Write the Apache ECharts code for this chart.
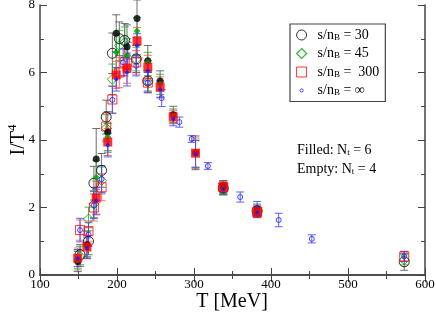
<!DOCTYPE html>
<html><head><meta charset="utf-8">
<script src="https://cdn.jsdelivr.net/npm/echarts@6/dist/echarts.min.js"></script>
<style>html,body{margin:0;padding:0;background:#fff}#c{width:436px;height:312px}</style>
</head><body><div id="c"></div>
<script>
// ---- Data ----
// N_t = 6 (filled symbols)
var T6 = [149, 161, 173, 188, 199, 213, 226, 240, 256, 273, 302, 338, 382];
var black6 = [0.4, 0.9, 3.44, 4.24, 7.16, 6.76, 7.6, 6.35, 5.75, 4.75, 3.62, 2.6, 1.9];
var black6err = [0.3, 0.4, 0.9, 0.6, 0.55, 0.65, 0.55, 0.45, 0.3, 0.25, 0.5, 0.2, 0.2];
var green6 = [0.45, 0.85, 2.9, 4.09, 6.6, 6.5, 7.23, 6.3, 5.65, 4.72, 3.6, 2.55, 1.88];
var green6err = [0.3, 0.3, 0.5, 0.4, 0.5, 0.5, 0.4, 0.3, 0.3, 0.2, 0.4, 0.15, 0.15];
var red6 = [0.5, 0.83, 2.28, 3.94, 5.93, 6.13, 6.93, 6.16, 5.57, 4.68, 3.61, 2.6, 1.87];
var red6err = [0.3, 0.35, 0.5, 0.4, 0.4, 0.45, 0.4, 0.35, 0.3, 0.2, 0.45, 0.15, 0.15];
var blue6 = [0.5, 0.8, 2.2, 3.85, 5.8, 6.0, 6.8, 6.05, 5.5, 4.62, 3.58, 2.55, 1.85];
var blue6err = [0.25, 0.3, 0.4, 0.35, 0.35, 0.4, 0.35, 0.3, 0.25, 0.2, 0.4, 0.15, 0.15];
// N_t = 4 (open symbols)
var T4 = [152, 163, 170, 180, 186, 194, 203, 210, 225, 240, 338, 382, 573];
var black4 = [0.6, 1.0, 2.72, 3.1, 4.68, 6.57, 7.0, 6.95, 6.4, 5.75, 2.58, 1.9, 0.39];
var black4err = [0.3, 0.4, 0.5, 0.5, 0.5, 0.6, 0.5, 0.5, 0.4, 0.3, 0.2, 0.15, 0.25];
var green4 = [0.55, 1.66, 2.1, 2.8, 4.35, 5.8, 6.8, 6.9, 6.4, 5.72, 2.52, 1.88, 0.45];
var green4err = [0.3, 0.35, 0.4, 0.4, 0.4, 0.45, 0.45, 0.45, 0.35, 0.3, 0.15, 0.15, 0.15];
var red4 = [1.33, 1.3, 2.0, 2.6, 4.4, 5.2, 6.0, 6.3, 6.3, 5.7, 2.6, 1.87, 0.55];
var red4err = [0.3, 0.3, 0.4, 0.4, 0.4, 0.4, 0.45, 0.4, 0.35, 0.3, 0.15, 0.15, 0.15];
var TB4 = [152, 163, 170, 180, 194, 208, 214, 225, 240, 258, 281, 297, 318, 338, 360, 382, 410, 453, 573];
var blue4 = [1.33, 1.2, 2.07, 2.84, 5.19, 6.3, 6.5, 6.2, 5.7, 5.24, 4.53, 4.03, 3.23, 2.58, 2.31, 1.98, 1.63, 1.07, 0.55];
var blue4err = [0.35, 0.35, 0.4, 0.4, 0.4, 0.4, 0.4, 0.3, 0.3, 0.25, 0.15, 0.1, 0.1, 0.1, 0.15, 0.2, 0.2, 0.12, 0.15];
// axis ticks
var xTicks = [100, 200, 300, 400, 500, 600];
var yTicks = [0, 2, 4, 6, 8];
var legendNames = ['30', '45', ' 300', '∞'];

var FONT = 'Liberation Serif';
function pts(T, v, e) { return T.map(function (t, i) { return [t, v[i], e[i]]; }); }

function errSeries(T, v, e, color) {
  return {
    type: 'custom', silent: true, z: 2,
    data: pts(T, v, e),
    renderItem: function (params, api) {
      var x = api.value(0), y = api.value(1), d = api.value(2);
      var p1 = api.coord([x, y + d]), p2 = api.coord([x, y - d]);
      var w = 4;
      var st = { stroke: color, lineWidth: 1, opacity: 0.85 };
      return { type: 'group', children: [
        { type: 'line', shape: { x1: p1[0], y1: p1[1], x2: p2[0], y2: p2[1] }, style: st },
        { type: 'line', shape: { x1: p1[0] - w, y1: p1[1], x2: p1[0] + w, y2: p1[1] }, style: st },
        { type: 'line', shape: { x1: p2[0] - w, y1: p2[1], x2: p2[0] + w, y2: p2[1] }, style: st }
      ]};
    }
  };
}
function openSeries(name, T, v, symbol, size, color) {
  return { name: name, type: 'scatter', z: 3, symbol: symbol, symbolSize: size,
    data: T.map(function (t, i) { return [t, v[i]]; }),
    itemStyle: { color: 'rgba(255,255,255,0)', borderColor: color, borderWidth: 1 } };
}
function filledSeries(name, T, v, symbol, size, color) {
  return { name: name, type: 'scatter', z: 4, symbol: symbol, symbolSize: size,
    data: T.map(function (t, i) { return [t, v[i]]; }),
    itemStyle: { color: color, borderColor: color, borderWidth: 0 } };
}

var cBlack = '#000', cGreen = '#00a000', cRed = '#ff0000', cBlue = '#1a1aff';
var eBlack = '#555', eGreen = '#33aa33', eRed = '#ff5555', eBlue = '#4444ff';

var names = legendNames.map(function (s) { return 's/nB=' + s; });

var series = [
  errSeries(T4, black4, black4err, eBlack),
  errSeries(T6, black6, black6err, eBlack),
  errSeries(T4, green4, green4err, eGreen),
  errSeries(T6, green6, green6err, eGreen),
  errSeries(T4, red4, red4err, eRed),
  errSeries(T6, red6, red6err, eRed),
  errSeries(TB4, blue4, blue4err, eBlue),
  errSeries(T6, blue6, blue6err, eBlue),
  openSeries(names[0], T4, black4, 'circle', 10, cBlack),
  openSeries(names[1], T4, green4, 'diamond', 10, cGreen),
  openSeries(names[2], T4, red4, 'rect', 9, cRed),
  openSeries(names[3], TB4, blue4, 'circle', 5, cBlue),
  filledSeries('f30', T6, black6, 'circle', 7, cBlack),
  filledSeries('f45', T6, green6, 'diamond', 7, cGreen),
  filledSeries('f300', T6, red6, 'rect', 9, cRed),
  filledSeries('finf', T6, blue6, 'circle', 4, cBlue)
];

var axisLine = { show: true, lineStyle: { color: '#444', width: 1.5 } };
var tick = { show: true, inside: true, length: 7, lineStyle: { color: '#444', width: 1 } };
var minor = { show: true, splitNumber: 2, length: 4, lineStyle: { color: '#444', width: 1 } };

var option = {
  animation: false,
  backgroundColor: '#fff',
  grid: { left: 40, right: 11, top: 5, bottom: 37, containLabel: false, outerBoundsMode: 'none' },
  xAxis: [
    { type: 'value', min: xTicks[0], max: xTicks[xTicks.length - 1], interval: 100, position: 'bottom',
      axisLine: axisLine, axisTick: tick, minorTick: minor, splitLine: { show: false },
      axisLabel: { fontFamily: FONT, fontSize: 13, color: '#000', margin: 3 } },
    { type: 'value', min: xTicks[0], max: xTicks[xTicks.length - 1], interval: 100, position: 'top',
      axisLine: axisLine, axisTick: tick, minorTick: minor, splitLine: { show: false },
      axisLabel: { show: false } }
  ],
  yAxis: [
    { type: 'value', min: yTicks[0], max: yTicks[yTicks.length - 1], interval: 2, position: 'left',
      axisLine: axisLine, axisTick: tick, minorTick: minor, splitLine: { show: false },
      axisLabel: { fontFamily: FONT, fontSize: 13, color: '#000', margin: 5 } },
    { type: 'value', min: yTicks[0], max: yTicks[yTicks.length - 1], interval: 2, position: 'right',
      axisLine: axisLine, axisTick: tick, minorTick: minor, splitLine: { show: false },
      axisLabel: { show: false } }
  ],
  legend: {
    orient: 'vertical', left: 290, top: 24,
    padding: [4, 6, 4, 6], itemGap: 4.5, itemWidth: 10, itemHeight: 10,
    borderColor: '#444', borderWidth: 1.2, borderRadius: 0, backgroundColor: '#fff',
    selectedMode: false,
    data: [
      { name: names[0], icon: 'circle', itemStyle: { color: 'rgba(255,255,255,0)', borderColor: cBlack, borderWidth: 1 } },
      { name: names[1], icon: 'diamond', itemStyle: { color: 'rgba(255,255,255,0)', borderColor: cGreen, borderWidth: 1.2 } },
      { name: names[2], icon: 'rect', itemStyle: { color: 'rgba(255,255,255,0)', borderColor: cRed, borderWidth: 1 } },
      { name: names[3], icon: 'path://M0,0M10,10M3.4,5A1.6,1.6,0,1,1,6.6,5A1.6,1.6,0,1,1,3.4,5Z', itemStyle: { color: 'rgba(255,255,255,0)', borderColor: cBlue, borderWidth: 1 } }
    ],
    formatter: function (n) {
      var i = names.indexOf(n);
      return '{sp|}{a|s/n}{b|B}{a| = ' + legendNames[i] + '}';
    },
    textStyle: { fontFamily: FONT, fontSize: 14, color: '#000', lineHeight: 14,
      rich: { sp: { width: 6 },
              a: { fontFamily: FONT, fontSize: 14, color: '#000' },
              b: { fontFamily: FONT, fontSize: 9, color: '#000', verticalAlign: 'bottom', padding: [6, 0, 0, 0] } } }
  },
  graphic: [
    { type: 'text', left: 297, top: 143, style: { text: '{a|Filled: N}{b|t}{a| = 6}', fill: '#000',
      rich: { a: { fontFamily: FONT, fontSize: 14, fill: '#000' }, b: { fontFamily: FONT, fontSize: 9, fill: '#000', padding: [6, 0, 0, 0] } } } },
    { type: 'text', left: 297, top: 162, style: { text: '{a|Empty: N}{b|t}{a| = 4}', fill: '#000',
      rich: { a: { fontFamily: FONT, fontSize: 14, fill: '#000' }, b: { fontFamily: FONT, fontSize: 9, fill: '#000', padding: [6, 0, 0, 0] } } } },
    { type: 'text', x: 232, y: 302, style: { text: 'T [MeV]', fill: '#000', font: '20px "Liberation Serif"', align: 'center', verticalAlign: 'middle' } },
    { type: 'text', x: 19, y: 140, rotation: Math.PI / 2, style: { text: '{a|I/T}{b|4}', fill: '#000', align: 'center', verticalAlign: 'middle',
      rich: { a: { fontFamily: FONT, fontSize: 20, fill: '#000' }, b: { fontFamily: FONT, fontSize: 13, fill: '#000', padding: [0, 0, 12, 0] } } } }
  ],
  series: series
};
var chart = echarts.init(document.getElementById('c'), null, { renderer: 'canvas' });
chart.setOption(option);
</script></body></html>
